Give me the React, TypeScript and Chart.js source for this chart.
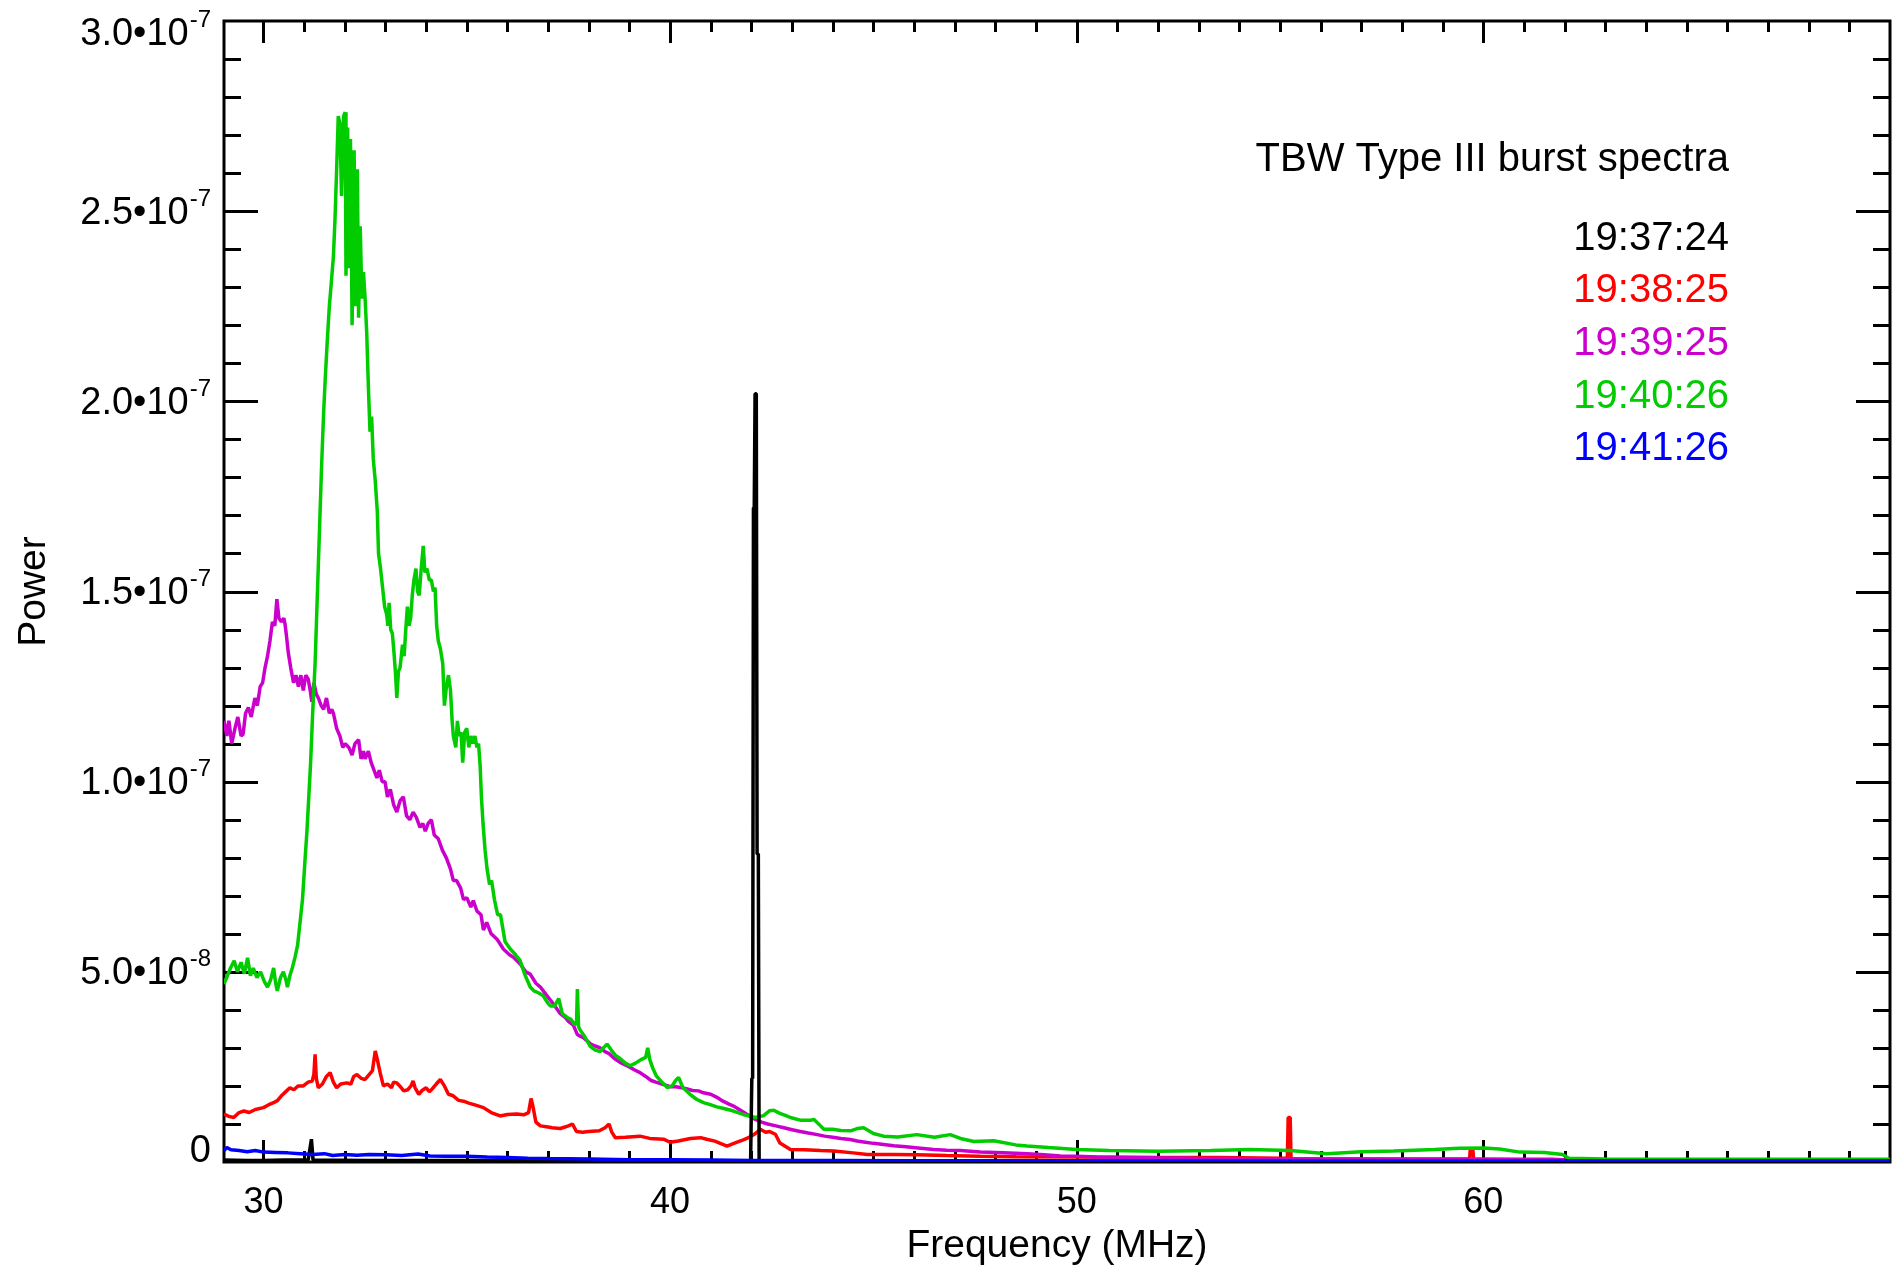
import React, { useEffect, useRef } from "react";
import { Chart, registerables } from "chart.js";

Chart.register(...registerables);

const FONT = '"Liberation Sans", Arial, Helvetica, sans-serif';

// ---- Text / legend ----
const CHART_TITLE = "TBW Type III burst spectra";
const X_TITLE = "Frequency (MHz)";
const Y_TITLE = "Power";
const SERIES_LABELS = ["19:37:24", "19:38:25", "19:39:25", "19:40:26", "19:41:26"];
const SERIES_COLORS = ["#000000", "#ff0000", "#cc00cc", "#00cc00", "#0000ff"];

// ---- Axes ----
const X_MIN = 29.03;
const X_MAX = 70;
const Y_MIN = 0; // power in units of 1e-8
const Y_MAX = 30;
const X_TICK_VALUES = [30, 40, 50, 60];
const X_TICK_LABELS = ["30", "40", "50", "60"];
const Y_TICK_VALUES = [0, 5, 10, 15, 20, 25, 30];
const Y_TICK_MANTISSAS = ["0", "5.0", "1.0", "1.5", "2.0", "2.5", "3.0"];
const Y_TICK_EXPONENTS = ["", "-8", "-7", "-7", "-7", "-7", "-7"];

// ---- Spectra: [frequency MHz, power (1e-8)] ----
const SPEC_193724: [number, number][] = [
  [29.03, 0.05], [29.6, 0.04], [30.0, 0.04], [30.5, 0.05], [31.1, 0.05], [31.18, 0.6], [31.22, 0.05],
  [32.5, 0.04], [34.0, 0.04], [36.0, 0.04], [38.0, 0.03], [40.0, 0.03], [41.98, 0.03],
  [42.01, 2.2], [42.03, 2.2], [42.05, 17.2], [42.07, 17.2], [42.09, 20.2], [42.12, 20.2],
  [42.14, 8.1], [42.17, 8.1], [42.19, 0.03],
  [45.0, 0.03], [50.0, 0.02], [55.0, 0.02], [60.0, 0.02], [65.0, 0.02], [70.0, 0.02],
];

const SPEC_193825: [number, number][] = [
  [29.03, 1.26], [29.15, 1.2], [29.27, 1.17], [29.4, 1.3], [29.52, 1.34], [29.65, 1.3], [29.8, 1.38],
  [30.0, 1.43], [30.12, 1.5], [30.25, 1.56], [30.35, 1.62], [30.45, 1.75], [30.55, 1.85], [30.65, 1.95],
  [30.75, 1.9], [30.85, 2.0], [30.98, 2.0], [31.1, 2.1], [31.2, 2.13], [31.24, 2.3], [31.27, 2.83],
  [31.3, 2.2], [31.35, 1.95], [31.45, 2.05], [31.55, 2.25], [31.64, 2.35], [31.72, 2.1], [31.8, 1.95],
  [31.9, 2.05], [32.05, 2.08], [32.15, 2.05], [32.22, 2.25], [32.3, 2.3], [32.4, 2.2], [32.5, 2.17],
  [32.6, 2.3], [32.68, 2.4], [32.72, 2.7], [32.75, 2.92], [32.8, 2.7], [32.88, 2.3], [32.95, 2.0],
  [33.05, 2.05], [33.15, 1.95], [33.2, 2.1], [33.28, 2.08], [33.35, 2.0], [33.45, 1.87], [33.55, 1.9],
  [33.63, 2.0], [33.68, 2.13], [33.73, 1.95], [33.82, 1.78], [33.9, 1.88], [34.0, 1.95], [34.08, 1.85],
  [34.15, 1.92], [34.25, 2.05], [34.35, 2.17], [34.45, 2.0], [34.55, 1.78], [34.65, 1.75], [34.8, 1.62],
  [34.92, 1.6], [35.05, 1.55], [35.2, 1.5], [35.41, 1.43], [35.6, 1.3], [35.82, 1.21], [36.0, 1.25],
  [36.23, 1.26], [36.4, 1.24], [36.52, 1.3], [36.58, 1.67], [36.62, 1.5], [36.7, 1.05], [36.81, 0.95],
  [37.0, 0.92], [37.1, 0.9], [37.3, 0.88], [37.5, 0.95], [37.6, 1.0], [37.7, 0.8], [37.85, 0.78],
  [38.0, 0.8], [38.26, 0.82], [38.4, 0.9], [38.5, 1.0], [38.56, 0.8], [38.65, 0.64], [38.9, 0.65],
  [39.26, 0.68], [39.5, 0.62], [39.84, 0.6], [40.0, 0.52], [40.2, 0.55], [40.5, 0.62], [40.75, 0.64],
  [40.9, 0.6], [41.1, 0.55], [41.4, 0.42], [41.6, 0.5], [41.8, 0.58], [41.97, 0.66], [42.1, 0.75],
  [42.22, 0.86], [42.35, 0.78], [42.45, 0.8], [42.59, 0.73], [42.7, 0.5], [42.96, 0.33], [43.3, 0.32],
  [43.7, 0.3], [44.03, 0.29], [44.5, 0.24], [44.85, 0.2], [45.5, 0.2], [46.07, 0.19], [46.8, 0.17],
  [47.63, 0.15], [48.5, 0.14], [50.0, 0.13], [52.05, 0.12], [53.5, 0.12], [55.0, 0.1], [55.18, 0.1],
  [55.2, 1.17], [55.25, 1.17], [55.27, 0.08], [56.5, 0.08], [58.0, 0.07], [59.66, 0.07], [59.68, 0.35],
  [59.74, 0.35], [59.76, 0.06], [61.0, 0.05], [62.0, 0.04], [65.0, 0.03], [70.0, 0.03],
];

const SPEC_193925: [number, number][] = [
  [29.03, 11.6], [29.1, 11.2], [29.15, 11.6], [29.22, 11.0], [29.3, 11.4], [29.37, 11.7], [29.45, 11.2],
  [29.5, 11.25], [29.56, 11.8], [29.63, 11.95], [29.7, 11.7], [29.79, 12.2], [29.85, 12.0], [29.92, 12.5],
  [29.98, 12.6], [30.04, 13.0], [30.1, 13.3], [30.16, 13.7], [30.22, 14.2], [30.28, 14.1], [30.33, 14.8],
  [30.38, 14.3], [30.44, 14.2], [30.5, 14.3], [30.53, 14.15], [30.57, 13.8], [30.61, 13.4], [30.67, 13.0],
  [30.74, 12.6], [30.8, 12.8], [30.86, 12.5], [30.92, 12.8], [30.98, 12.4], [31.04, 12.8], [31.1, 12.7],
  [31.15, 12.4], [31.19, 12.1], [31.24, 12.6], [31.3, 12.3], [31.35, 12.2], [31.42, 12.0], [31.48, 11.9],
  [31.55, 12.2], [31.62, 11.8], [31.68, 11.9], [31.72, 11.8], [31.8, 11.4], [31.88, 11.2], [31.95, 10.9],
  [32.01, 11.0], [32.1, 10.9], [32.18, 10.7], [32.25, 11.0], [32.34, 11.1], [32.4, 10.6], [32.46, 10.8],
  [32.5, 10.6], [32.58, 10.8], [32.65, 10.5], [32.72, 10.3], [32.79, 10.1], [32.85, 10.3], [32.92, 10.0],
  [32.99, 10.0], [33.05, 9.6], [33.12, 9.8], [33.2, 9.4], [33.28, 9.2], [33.36, 9.5], [33.44, 9.6],
  [33.52, 9.1], [33.6, 9.0], [33.68, 9.2], [33.76, 9.06], [33.85, 8.8], [33.92, 8.9], [33.98, 8.7],
  [34.05, 8.9], [34.13, 9.0], [34.2, 8.6], [34.3, 8.5], [34.4, 8.2], [34.5, 7.99], [34.6, 7.7],
  [34.67, 7.4], [34.75, 7.4], [34.85, 7.2], [34.92, 6.9], [35.0, 6.95], [35.1, 6.7], [35.16, 6.87],
  [35.25, 6.6], [35.35, 6.5], [35.41, 6.1], [35.49, 6.3], [35.6, 6.0], [35.75, 5.85], [35.9, 5.6],
  [36.05, 5.45], [36.15, 5.38], [36.32, 5.2], [36.45, 5.0], [36.56, 4.94], [36.7, 4.7], [36.81, 4.6],
  [36.95, 4.4], [37.1, 4.2], [37.2, 4.05], [37.3, 3.9], [37.42, 3.8], [37.5, 3.7], [37.62, 3.6],
  [37.72, 3.35], [37.8, 3.3], [37.87, 3.27], [38.05, 3.1], [38.16, 3.05], [38.28, 3.0], [38.4, 2.9],
  [38.5, 2.85], [38.63, 2.72], [38.77, 2.62], [38.9, 2.55], [39.0, 2.5], [39.13, 2.42], [39.26, 2.35],
  [39.4, 2.25], [39.52, 2.15], [39.65, 2.1], [39.8, 2.05], [40.0, 1.98], [40.13, 1.98], [40.26, 1.96],
  [40.4, 1.93], [40.55, 1.88], [40.7, 1.87], [40.82, 1.82], [41.0, 1.78], [41.15, 1.7], [41.3, 1.6],
  [41.45, 1.52], [41.56, 1.47], [41.7, 1.38], [41.85, 1.28], [42.0, 1.18], [42.1, 1.12], [42.25, 1.05],
  [42.4, 1.0], [42.6, 0.95], [42.8, 0.9], [43.0, 0.85], [43.2, 0.8], [43.4, 0.76], [43.62, 0.72],
  [43.8, 0.68], [44.0, 0.65], [44.2, 0.62], [44.43, 0.59], [44.6, 0.55], [44.8, 0.52], [45.0, 0.49],
  [45.25, 0.46], [45.5, 0.43], [45.8, 0.4], [46.1, 0.37], [46.48, 0.33], [46.8, 0.31], [47.14, 0.3],
  [47.63, 0.26], [48.2, 0.24], [48.78, 0.22], [49.2, 0.19], [49.6, 0.16], [50.0, 0.15], [50.5, 0.13],
  [51.23, 0.12], [52.0, 0.11], [52.87, 0.1], [54.0, 0.09], [56.0, 0.08], [58.0, 0.08], [60.0, 0.08],
  [61.0, 0.07], [61.7, 0.07], [62.3, 0.04], [65.0, 0.03], [70.0, 0.03],
];

const SPEC_194026: [number, number][] = [
  [29.03, 4.68], [29.19, 5.1], [29.28, 5.29], [29.36, 5.0], [29.45, 5.25], [29.53, 4.95], [29.61, 5.37],
  [29.68, 4.9], [29.75, 5.1], [29.84, 4.85], [29.93, 5.0], [30.02, 4.75], [30.1, 4.6], [30.18, 4.8],
  [30.25, 5.1], [30.3, 4.7], [30.34, 4.5], [30.42, 4.85], [30.49, 5.0], [30.55, 4.8], [30.59, 4.6],
  [30.65, 4.9], [30.71, 5.1], [30.78, 5.4], [30.84, 5.7], [30.91, 6.4], [30.96, 6.9], [31.02, 7.9],
  [31.07, 8.7], [31.12, 9.7], [31.16, 10.5], [31.21, 11.8], [31.27, 13.1], [31.31, 14.4], [31.35, 15.7],
  [31.39, 17.0], [31.43, 18.3], [31.48, 19.7], [31.52, 20.6], [31.56, 21.4], [31.62, 22.5], [31.66, 23.0],
  [31.72, 23.8], [31.76, 24.8], [31.8, 26.1], [31.84, 27.5], [31.88, 27.3], [31.92, 25.4], [31.97, 27.5],
  [32.01, 27.6], [32.03, 23.3], [32.07, 27.2], [32.11, 23.5], [32.14, 26.9], [32.18, 22.0], [32.23, 26.6],
  [32.27, 22.5], [32.31, 26.1], [32.34, 22.2], [32.38, 24.6], [32.42, 22.7], [32.46, 23.4], [32.5, 22.7],
  [32.54, 21.8], [32.58, 20.4], [32.62, 19.2], [32.66, 19.6], [32.7, 18.5], [32.75, 17.9], [32.8, 17.1],
  [32.83, 16.0], [32.88, 15.6], [32.93, 15.1], [32.98, 14.6], [33.03, 14.4], [33.06, 14.1], [33.09, 14.7],
  [33.13, 14.0], [33.17, 13.9], [33.21, 13.4], [33.25, 12.8], [33.28, 12.2], [33.32, 12.9], [33.36, 13.0],
  [33.42, 13.6], [33.46, 13.3], [33.5, 14.0], [33.54, 14.6], [33.58, 14.1], [33.62, 14.3], [33.66, 14.9],
  [33.7, 15.3], [33.75, 15.6], [33.79, 15.0], [33.83, 14.9], [33.88, 15.6], [33.93, 16.2], [33.97, 15.5],
  [34.02, 15.6], [34.08, 15.3], [34.13, 15.3], [34.18, 15.0], [34.22, 15.1], [34.26, 14.1], [34.3, 13.7],
  [34.35, 13.5], [34.41, 13.1], [34.45, 12.0], [34.5, 12.5], [34.55, 12.8], [34.6, 12.4], [34.64, 11.6],
  [34.67, 11.2], [34.73, 10.9], [34.77, 11.6], [34.81, 11.2], [34.86, 11.3], [34.9, 10.5], [34.95, 11.3],
  [35.0, 11.4], [35.05, 10.9], [35.1, 11.2], [35.15, 11.0], [35.2, 11.2], [35.25, 10.9], [35.29, 11.0],
  [35.33, 10.4], [35.36, 9.6], [35.4, 8.9], [35.45, 8.2], [35.5, 7.7], [35.56, 7.3], [35.61, 7.4],
  [35.68, 6.9], [35.76, 6.5], [35.83, 6.5], [35.94, 5.8], [36.07, 5.6], [36.2, 5.45], [36.31, 5.3],
  [36.42, 4.95], [36.56, 4.6], [36.65, 4.5], [36.76, 4.45], [36.88, 4.37], [36.98, 4.2], [37.06, 4.1],
  [37.16, 4.1], [37.26, 4.3], [37.35, 3.9], [37.47, 3.8], [37.56, 3.75], [37.66, 3.6], [37.7, 3.7],
  [37.72, 4.55], [37.75, 3.55], [37.8, 3.45], [37.9, 3.3], [38.03, 3.05], [38.15, 2.95], [38.28, 2.9],
  [38.36, 3.0], [38.45, 3.1], [38.55, 2.95], [38.66, 2.8], [38.77, 2.72], [38.9, 2.6], [39.02, 2.53],
  [39.15, 2.6], [39.3, 2.7], [39.4, 2.75], [39.45, 3.0], [39.5, 2.7], [39.58, 2.45], [39.67, 2.25],
  [39.8, 2.1], [39.93, 1.96], [40.05, 2.0], [40.14, 2.15], [40.21, 2.22], [40.32, 1.95], [40.49, 1.78],
  [40.65, 1.65], [40.82, 1.56], [40.95, 1.52], [41.15, 1.45], [41.35, 1.4], [41.56, 1.34], [41.8, 1.25],
  [42.1, 1.17], [42.3, 1.22], [42.45, 1.35], [42.55, 1.36], [42.7, 1.28], [42.85, 1.22], [42.96, 1.17],
  [43.2, 1.1], [43.45, 1.1], [43.54, 1.12], [43.7, 0.95], [43.78, 0.86], [44.0, 0.86], [44.2, 0.83],
  [44.44, 0.82], [44.6, 0.88], [44.76, 0.9], [45.0, 0.75], [45.25, 0.68], [45.6, 0.66], [46.07, 0.72],
  [46.5, 0.65], [46.89, 0.72], [47.14, 0.62], [47.47, 0.54], [47.96, 0.56], [48.5, 0.45], [48.78, 0.42],
  [49.3, 0.38], [50.0, 0.33], [50.8, 0.3], [52.0, 0.28], [53.3, 0.3], [54.26, 0.33], [55.25, 0.3],
  [56.15, 0.22], [57.0, 0.27], [57.8, 0.29], [58.8, 0.33], [59.4, 0.36], [60.0, 0.37], [60.4, 0.34],
  [60.9, 0.26], [61.5, 0.25], [61.95, 0.2], [62.1, 0.1], [63.0, 0.08], [65.0, 0.07], [67.0, 0.07],
  [70.0, 0.07],
];

const SPEC_194126: [number, number][] = [
  [29.03, 0.3], [29.1, 0.38], [29.2, 0.32], [29.4, 0.3], [29.6, 0.27], [29.8, 0.3], [30.0, 0.26],
  [30.3, 0.25], [30.6, 0.24], [30.9, 0.22], [31.2, 0.2], [31.5, 0.22], [31.7, 0.17], [32.0, 0.2],
  [32.3, 0.18], [32.6, 0.2], [33.0, 0.19], [33.4, 0.17], [33.8, 0.21], [34.1, 0.16], [34.5, 0.15],
  [35.0, 0.15], [35.5, 0.13], [36.0, 0.12], [36.5, 0.1], [37.0, 0.09], [38.0, 0.08], [39.0, 0.06],
  [40.0, 0.06], [41.0, 0.05], [42.0, 0.04], [44.0, 0.04], [46.0, 0.03], [50.0, 0.03], [55.0, 0.02],
  [60.0, 0.02], [65.0, 0.02], [70.0, 0.02],
];

const SERIES_DATA = [SPEC_193724, SPEC_193825, SPEC_193925, SPEC_194026, SPEC_194126];

const idlFramePlugin = {
  id: "idlFrame",
  beforeDatasetsDraw(chart: any) {
    const { ctx, chartArea: a, scales } = chart;
    const xs = scales.x;
    const ys = scales.y;
    ctx.save();
    ctx.strokeStyle = "#000";
    ctx.lineWidth = 3;
    ctx.lineCap = "butt";
    ctx.strokeRect(a.left, a.top, a.right - a.left, a.bottom - a.top);
    ctx.beginPath();
    for (let v = 30; v < X_MAX; v += 1) {
      const major = v % 10 === 0;
      const len = major ? 22 : 11;
      const px = Math.round(xs.getPixelForValue(v)) + 0.5;
      ctx.moveTo(px, a.bottom);
      ctx.lineTo(px, a.bottom - len);
      ctx.moveTo(px, a.top);
      ctx.lineTo(px, a.top + len);
    }
    for (let v = Y_MIN + 1; v < Y_MAX; v += 1) {
      const major = v % 5 === 0;
      const len = major ? 34 : 17;
      const py = Math.round(ys.getPixelForValue(v)) + 0.5;
      ctx.moveTo(a.left, py);
      ctx.lineTo(a.left + len, py);
      ctx.moveTo(a.right, py);
      ctx.lineTo(a.right - len, py);
    }
    ctx.stroke();
    ctx.restore();
  },
  afterDraw(chart: any) {
    const { ctx, chartArea: a, scales } = chart;
    const xs = scales.x;
    const ys = scales.y;
    ctx.save();
    ctx.fillStyle = "#000";
    ctx.textBaseline = "alphabetic";

    // x tick labels
    ctx.font = `36px ${FONT}`;
    ctx.textAlign = "center";
    X_TICK_VALUES.forEach((v, i) => {
      ctx.fillText(X_TICK_LABELS[i], xs.getPixelForValue(v), 1213);
    });

    // y tick labels with superscript exponent
    const rightEdge = 211;
    Y_TICK_VALUES.forEach((v, i) => {
      const py = ys.getPixelForValue(v);
      let base = py + 12.5;
      if (base < 45) base = 45;
      if (base > a.bottom) base = a.bottom;
      const mant = Y_TICK_MANTISSAS[i];
      const exp = Y_TICK_EXPONENTS[i];
      ctx.textAlign = "left";
      if (exp) {
        ctx.font = `24px ${FONT}`;
        const ew = ctx.measureText(exp).width;
        ctx.fillText(exp, rightEdge - ew, base - 18);
        ctx.font = `38px ${FONT}`;
        const main = mant + "\u2022" + "10";
        const mw = ctx.measureText(main).width;
        ctx.fillText(main, rightEdge - ew - 1 - mw, base);
      } else {
        ctx.font = `38px ${FONT}`;
        const mw = ctx.measureText(mant).width;
        ctx.fillText(mant, rightEdge - mw, base);
      }
    });

    // axis titles
    ctx.font = `39px ${FONT}`;
    ctx.textAlign = "center";
    ctx.fillText(X_TITLE, (a.left + a.right) / 2, 1257);
    ctx.save();
    ctx.translate(45, (a.top + a.bottom) / 2);
    ctx.rotate(-Math.PI / 2);
    ctx.fillText(Y_TITLE, 0, 0);
    ctx.restore();

    // in-plot legend
    ctx.font = `40px ${FONT}`;
    ctx.textAlign = "right";
    ctx.fillStyle = "#000";
    ctx.fillText(CHART_TITLE, 1729, 171);
    const baselines = [250, 302, 355, 408, 460];
    SERIES_LABELS.forEach((lab, i) => {
      ctx.fillStyle = SERIES_COLORS[i];
      ctx.fillText(lab, 1729, baselines[i]);
    });
    ctx.restore();
  },
};

export default function App() {
  const canvasRef = useRef<HTMLCanvasElement | null>(null);

  useEffect(() => {
    document.body.style.margin = "0";
    document.body.style.overflow = "hidden";
    const canvas = canvasRef.current;
    if (!canvas) return;

    // drawing order: index 0 is drawn on top
    const drawOrder = [4, 0, 3, 2, 1];
    const datasets = drawOrder.map((i) => ({
      label: SERIES_LABELS[i],
      data: SERIES_DATA[i].map(([f, p]) => ({ x: f, y: p })),
      borderColor: SERIES_COLORS[i],
      backgroundColor: SERIES_COLORS[i],
      borderWidth: 3.5,
      pointRadius: 0,
      tension: 0,
      fill: false,
      borderJoinStyle: "bevel" as const,
    }));

    const chart = new Chart(canvas, {
      type: "line",
      data: { datasets },
      options: {
        responsive: false,
        animation: false,
        devicePixelRatio: 1,
        events: [],
        layout: { padding: { top: 21, right: 12, bottom: 0, left: 0 } },
        plugins: {
          legend: { display: false },
          tooltip: { enabled: false },
          title: { display: false },
        },
        scales: {
          x: {
            type: "linear",
            min: X_MIN,
            max: X_MAX,
            grid: { display: false },
            border: { display: false },
            ticks: { display: false },
            afterFit: (s: any) => {
              s.height = 107;
            },
          },
          y: {
            type: "linear",
            min: Y_MIN,
            max: Y_MAX,
            grid: { display: false },
            border: { display: false },
            ticks: { display: false },
            afterFit: (s: any) => {
              s.width = 224;
            },
          },
        },
      } as any,
      plugins: [idlFramePlugin],
    });

    return () => chart.destroy();
  }, []);

  return (
    <div style={{ width: 1902, height: 1269, background: "#fff" }}>
      <canvas ref={canvasRef} width={1902} height={1269} style={{ display: "block" }} />
    </div>
  );
}
